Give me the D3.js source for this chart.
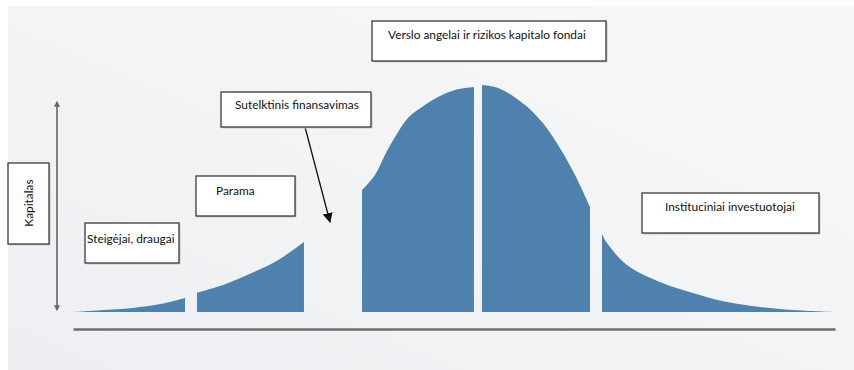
<!DOCTYPE html>
<html>
<head>
<meta charset="utf-8">
<script src="https://cdn.jsdelivr.net/npm/d3@7"></script>
<style>
  html, body { margin: 0; padding: 0; background: #ffffff; }
  svg { display: block; }
</style>
</head>
<body>
<div id="chart"></div>
<script>
// ---- data (stage 0..100 along the horizontal axis, capital 0..100 vertical) ----
const seg1Stage = [0, 3.54, 7.87, 11.42, 14.70];
const seg1Capital = [0, 0.8, 1.8, 3.5, 6.2];
const seg2Stage = [16.27, 19.95, 23.23, 27.17, 30.31];
const seg2Capital = [8.4, 12.2, 16.8, 23.4, 30.8];
const seg3Stage = [37.93, 39.63, 40.94, 42.26, 43.96, 45.80, 47.90, 50.13, 52.62];
const seg3Capital = [53.7, 60.4, 69.2, 77.1, 85.5, 90.3, 94.7, 97.8, 99.1];
const seg4Stage = [53.67, 55.38, 57.09, 59.32, 61.55, 63.65, 65.88, 67.85];
const seg4Capital = [100, 99.1, 96.5, 91.2, 83.7, 73.6, 60.4, 46.3];
const seg5Stage = [69.42, 70.08, 72.70, 77.03, 81.36, 85.83, 90.16, 94.49, 100];
const seg5Capital = [34.4, 30.4, 20.7, 13.2, 8.4, 4.4, 2.2, 0.9, 0];

const stageLabels = [
  "Steigėjai, draugai",
  "Parama",
  "Sutelktinis finansavimas",
  "Verslo angelai ir rizikos kapitalo fondai",
  "Instituciniai investuotojai"
];
const axisLabel = "Kapitalas";

// ---- layout (positions / sizes, not data) ----
const W = 854, H = 370;
const plot = { left: 73, right: 835, base: 312, top: 85 };
const boxLayout = [
  { x: 85,  y: 223, w: 94,  h: 40, tx: 87,  ty: 243 },
  { x: 196, y: 176, w: 99,  h: 40, tx: 216, ty: 195 },
  { x: 221, y: 92,  w: 150, h: 35, tx: 235, ty: 109 },
  { x: 372, y: 21,  w: 234, h: 40, tx: 388, ty: 39  },
  { x: 642, y: 193, w: 177, h: 40, tx: 665, ty: 211 }
];
const axisBox = { x: 8, y: 163, w: 41, h: 81, cx: 33, cy: 203 };
const fillColor = "#4e81ae";

const svg = d3.select("#chart").append("svg")
  .attr("width", W).attr("height", H)
  .attr("viewBox", `0 0 ${W} ${H}`);

const defs = svg.append("defs");
const bg = defs.append("linearGradient").attr("id", "bg")
  .attr("x1", "0").attr("y1", "1").attr("x2", "1").attr("y2", "0");
bg.append("stop").attr("offset", "0").attr("stop-color", "#eeeff2");
bg.append("stop").attr("offset", "0.55").attr("stop-color", "#f3f4f5");
bg.append("stop").attr("offset", "1").attr("stop-color", "#f8f8f8");

defs.append("marker").attr("id", "arrowBlack")
  .attr("viewBox", "0 0 10 10").attr("refX", 9).attr("refY", 5)
  .attr("markerWidth", 10).attr("markerHeight", 10)
  .attr("markerUnits", "userSpaceOnUse")
  .attr("orient", "auto")
  .append("path").attr("d", "M0,0 L10,5 L0,10 Z").attr("fill", "#111");

defs.append("marker").attr("id", "arrowGrey")
  .attr("viewBox", "0 0 10 10").attr("refX", 8).attr("refY", 5)
  .attr("markerWidth", 6).attr("markerHeight", 6)
  .attr("markerUnits", "userSpaceOnUse")
  .attr("orient", "auto-start-reverse")
  .append("path").attr("d", "M0,0 L10,5 L0,10 Z").attr("fill", "#666");

// background
svg.append("rect").attr("x", 0).attr("y", 0).attr("width", W).attr("height", H).attr("fill", "#ffffff");
svg.append("rect").attr("x", 8).attr("y", 6).attr("width", W - 8).attr("height", H - 6).attr("fill", "url(#bg)");

// scales
const x = d3.scaleLinear().domain([0, 100]).range([plot.left, plot.right]);
const y = d3.scaleLinear().domain([0, 100]).range([plot.base, plot.top]);

const area = d3.area()
  .x(d => x(d.s))
  .y0(y(0))
  .y1(d => y(d.c))
  .curve(d3.curveCatmullRom.alpha(0.5));

const segments = [
  [seg1Stage, seg1Capital],
  [seg2Stage, seg2Capital],
  [seg3Stage, seg3Capital],
  [seg4Stage, seg4Capital],
  [seg5Stage, seg5Capital]
].map(([s, c]) => s.map((v, i) => ({ s: v, c: c[i] })));

svg.append("g").selectAll("path").data(segments).join("path")
  .attr("d", area)
  .attr("fill", fillColor);

// horizontal axis line
const xAxis = svg.append("g")
  .attr("transform", `translate(0,${plot.base + 17})`)
  .call(d3.axisBottom(x).tickValues([]).tickSizeOuter(0));
xAxis.select(".domain").attr("stroke", "#6f6f6f").attr("stroke-width", 2.5);

// vertical double arrow
svg.append("line")
  .attr("x1", 57).attr("x2", 57)
  .attr("y1", y(0.9)).attr("y2", y(92.5))
  .attr("stroke", "#666").attr("stroke-width", 1.6)
  .attr("marker-start", "url(#arrowGrey)")
  .attr("marker-end", "url(#arrowGrey)");

// arrow from crowdfunding box
svg.append("line")
  .attr("x1", 305).attr("y1", 127)
  .attr("x2", 330).attr("y2", 222)
  .attr("stroke", "#111").attr("stroke-width", 1.3)
  .attr("marker-end", "url(#arrowBlack)");

const fontFamily = "Lato, 'Open Sans', sans-serif";

// measure a common font size from the widest label (target width ~198px)
const probe = svg.append("text").attr("font-family", fontFamily).attr("font-size", 12).text(stageLabels[3]);
const fontSize = 12 * 198 / probe.node().getComputedTextLength();
probe.remove();

// label boxes
const boxes = svg.append("g").selectAll("g").data(stageLabels).join("g");
boxes.append("rect")
  .attr("x", (d, i) => boxLayout[i].x + 1.5).attr("y", (d, i) => boxLayout[i].y + 1.5)
  .attr("width", (d, i) => boxLayout[i].w).attr("height", (d, i) => boxLayout[i].h)
  .attr("fill", "#c9c9c9");
boxes.append("rect")
  .attr("x", (d, i) => boxLayout[i].x).attr("y", (d, i) => boxLayout[i].y)
  .attr("width", (d, i) => boxLayout[i].w).attr("height", (d, i) => boxLayout[i].h)
  .attr("fill", "#ffffff").attr("stroke", "#3a3a3a").attr("stroke-width", 1.3);
boxes.append("text")
  .attr("x", (d, i) => boxLayout[i].tx).attr("y", (d, i) => boxLayout[i].ty)
  .attr("font-family", fontFamily)
  .attr("font-size", fontSize)
  .attr("fill", "#111")
  .text(d => d);

// vertical axis label box
svg.append("rect")
  .attr("x", axisBox.x + 1.5).attr("y", axisBox.y + 1.5)
  .attr("width", axisBox.w).attr("height", axisBox.h).attr("fill", "#c9c9c9");
svg.append("rect")
  .attr("x", axisBox.x).attr("y", axisBox.y)
  .attr("width", axisBox.w).attr("height", axisBox.h)
  .attr("fill", "#ffffff").attr("stroke", "#3a3a3a").attr("stroke-width", 1.3);
svg.append("text")
  .attr("transform", `translate(${axisBox.cx},${axisBox.cy}) rotate(-90)`)
  .attr("text-anchor", "middle")
  .attr("font-family", fontFamily)
  .attr("font-size", fontSize)
  .attr("fill", "#111")
  .text(axisLabel);
</script>
</body>
</html>
